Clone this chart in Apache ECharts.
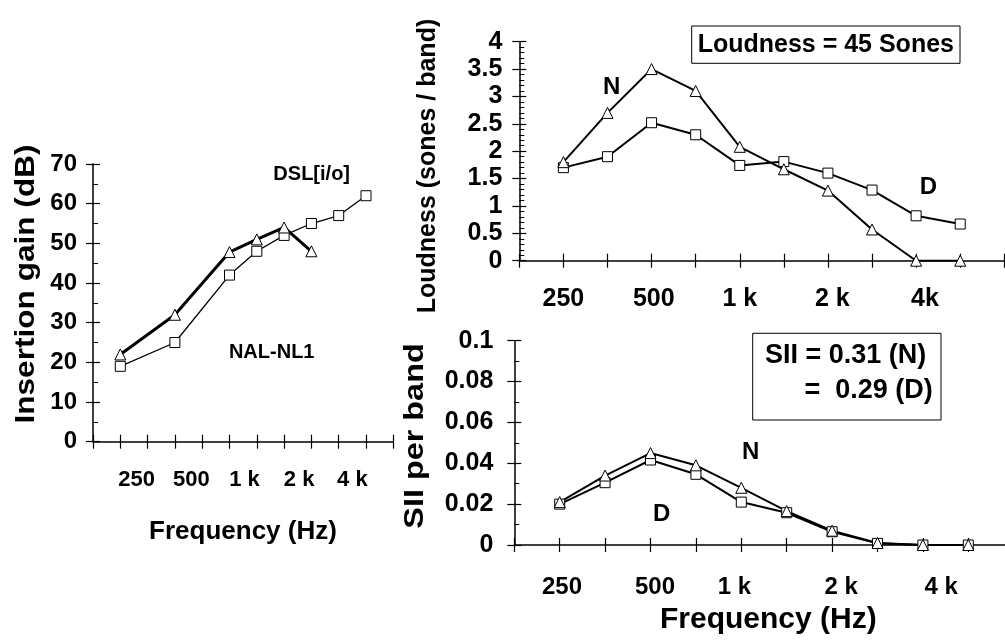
<!DOCTYPE html>
<html>
<head>
<meta charset="utf-8">
<script src="https://cdn.jsdelivr.net/npm/echarts@6/dist/echarts.min.js"></script>
<style>
html,body{margin:0;padding:0;background:#fff;}
#chart{width:1005px;height:644px;}
</style>
</head>
<body>
<div id="chart"></div>
<script>
// ---- data ----
const freqs = [250, 354, 500, 707, 1000, 1414, 2000, 2828, 4000, 5657];
const gainNAL = [22, null, 32, null, 47.8, 51, 54, 48, null, null];
const gainDSL = [19, null, 25, null, 42, 48, 52, 55, 57, 62];
const loudN = [1.8, 2.7, 3.5, 3.1, 2.08, 1.67, 1.28, 0.57, 0, 0];
const loudD = [1.7, 1.9, 2.52, 2.3, 1.74, 1.81, 1.6, 1.29, 0.82, 0.67];
const siiN = [0.021, 0.034, 0.045, 0.039, 0.028, 0.0166, 0.007, 0.001, 0, 0];
const siiD = [0.020, 0.0305, 0.0416, 0.0346, 0.021, 0.0158, 0.0065, 0.0008, 0, 0];
const leftTickLabels = ['250', '500', '1 k', '2 k', '4 k'];
const loudTickLabels = ['250', '500', '1 k', '2 k', '4k'];
const siiTickLabels = ['250', '500', '1 k', '2 k', '4 k'];

// ---- layout ----
const FONT = '"Liberation Sans", Arial, sans-serif';
const leftLabelPos = [0.6, 2.6, 4.55, 6.55, 8.5];
const loudLabelPos = [0, 2.05, 4, 6.1, 8.2];
const siiLabelPos = [0.05, 2.1, 3.85, 6.2, 8.4];

function pairs(vals) {
  const out = [];
  vals.forEach((v, i) => { if (v !== null) out.push([i, v]); });
  return out;
}
function nearestLabel(labels, pos, v) {
  let best = 0, bd = 1e9;
  pos.forEach((p, i) => { const d = Math.abs(p - v); if (d < bd) { bd = d; best = i; } });
  return labels[best];
}
function xAxes(gi, max, labels, pos, margin, fs) {
  return [
    { type: 'value', gridIndex: gi, min: -1, max: max, interval: 1, position: 'bottom',
      axisLine: { show: true, onZero: false, lineStyle: { color: '#000', width: 1.5 } },
      axisTick: { show: true, inside: false, length: 7, lineStyle: { color: '#000', width: 1.2 } },
      axisLabel: { show: true, customValues: pos, margin: margin, fontSize: fs, fontWeight: 'bold',
        fontFamily: FONT, color: '#000', formatter: v => nearestLabel(labels, pos, v) },
      splitLine: { show: false } },
    { type: 'value', gridIndex: gi, min: -1, max: max, interval: 1, position: 'bottom', offset: 0,
      axisLine: { show: false, onZero: false },
      axisTick: { show: true, inside: true, length: 7, lineStyle: { color: '#000', width: 1.2 } },
      axisLabel: { show: false }, splitLine: { show: false } }
  ];
}
function yAxes(gi, max, interval, minorSplit, margin, fs) {
  return [
    { type: 'value', gridIndex: gi, min: 0, max: max, interval: interval, position: 'left',
      axisLine: { show: true, onZero: false, lineStyle: { color: '#000', width: 1.5 } },
      axisTick: { show: true, inside: false, length: 7, lineStyle: { color: '#000', width: 1.2 } },
      axisLabel: { show: true, margin: margin, fontSize: fs, fontWeight: 'bold', fontFamily: FONT, color: '#000' },
      splitLine: { show: false } },
    { type: 'value', gridIndex: gi, min: 0, max: max, interval: interval, position: 'left', offset: 0,
      axisLine: { show: false, onZero: false },
      axisTick: { show: true, inside: true, length: 7, lineStyle: { color: '#000', width: 1.2 } },
      minorTick: { show: true, splitNumber: minorSplit, length: 5, lineStyle: { color: '#000', width: 1 } },
      axisLabel: { show: false }, splitLine: { show: false }, minorSplitLine: { show: false } }
  ];
}
function lineSeries(name, vals, gi, symbol, size, lw) {
  return {
    name: name, type: 'line', xAxisIndex: gi * 2, yAxisIndex: gi * 2,
    data: pairs(vals), connectNulls: true, symbol: symbol, symbolSize: size,
    showSymbol: true, animation: false,
    lineStyle: { color: '#000', width: lw },
    itemStyle: { color: '#fff', borderColor: '#000', borderWidth: 1 },
    emphasis: { disabled: true }
  };
}
function txt(text, x, y, fs, opts) {
  opts = opts || {};
  return {
    type: 'text', x: x, y: y, rotation: opts.rot || 0, scaleX: opts.sx || 1,
    style: { text: text, font: 'bold ' + fs + 'px ' + FONT, fill: '#000',
      align: opts.align || 'center', verticalAlign: 'middle' }
  };
}

const chart = echarts.init(document.getElementById('chart'), null, { renderer: 'canvas' });
const xa = [].concat(
  xAxes(0, 10, leftTickLabels, leftLabelPos, 27, 22),
  xAxes(1, 10, loudTickLabels, loudLabelPos, 26, 25),
  xAxes(2, 10, siiTickLabels, siiLabelPos, 30, 24)
);
const ya = [].concat(
  yAxes(0, 70, 10, 2, 16, 24),
  yAxes(1, 4, 0.5, 5, 17, 25),
  yAxes(2, 0.1, 0.02, 2, 21, 25)
);
chart.setOption({
  backgroundColor: '#fff',
  animation: false,
  grid: [
    { left: 93, right: 611.7, top: 164, bottom: 202.3, containLabel: false, outerBoundsMode: 'none' },
    { left: 519.3, right: 0.7, top: 41.7, bottom: 383.3, containLabel: false, outerBoundsMode: 'none' },
    { left: 514.3, right: -8.7, top: 340.7, bottom: 99, containLabel: false, outerBoundsMode: 'none' }
  ],
  xAxis: xa,
  yAxis: ya,
  series: [
    lineSeries('DSL[i/o]', gainDSL, 0, 'rect', 10, 1.3),
    lineSeries('NAL-NL1', gainNAL, 0, 'triangle', 11, 3),
    lineSeries('D', loudD, 1, 'rect', 10, 2),
    lineSeries('N', loudN, 1, 'triangle', 11, 2),
    lineSeries('D', siiD, 2, 'rect', 10, 2),
    lineSeries('N', siiN, 2, 'triangle', 11, 2)
  ],
  graphic: [
    txt('Insertion gain (dB)', 27, 284, 27, { rot: Math.PI / 2, sx: 1.17 }),
    txt('Frequency (Hz)', 243, 532, 26),
    txt('DSL[i/o]', 311.7, 174, 20),
    txt('NAL-NL1', 271.7, 352, 20),
    txt('Loudness (sones / band)', 428, 166, 25, { rot: Math.PI / 2 }),
    txt('N', 611.7, 87, 24),
    txt('D', 928.3, 187, 24),
    { type: 'rect', shape: { x: 691.7, y: 26, width: 268.3, height: 37.3 },
      style: { fill: 'none', stroke: '#000', lineWidth: 1 } },
    txt('Loudness = 45 Sones', 825.8, 45, 25),
    txt('SII per band', 416, 436, 27, { rot: Math.PI / 2, sx: 1.2 }),
    { type: 'rect', shape: { x: 752.7, y: 333.3, width: 188.3, height: 86.7 },
      style: { fill: 'none', stroke: '#000', lineWidth: 1 } },
    txt('SII = 0.31 (N)', 765, 356, 27, { align: 'left' }),
    txt('=  0.29 (D)', 932.7, 391, 27, { align: 'right' }),
    txt('N', 750.7, 452, 24),
    txt('D', 661.7, 514, 24),
    txt('Frequency (Hz)', 768.3, 620, 30)
  ]
});
</script>
</body>
</html>
